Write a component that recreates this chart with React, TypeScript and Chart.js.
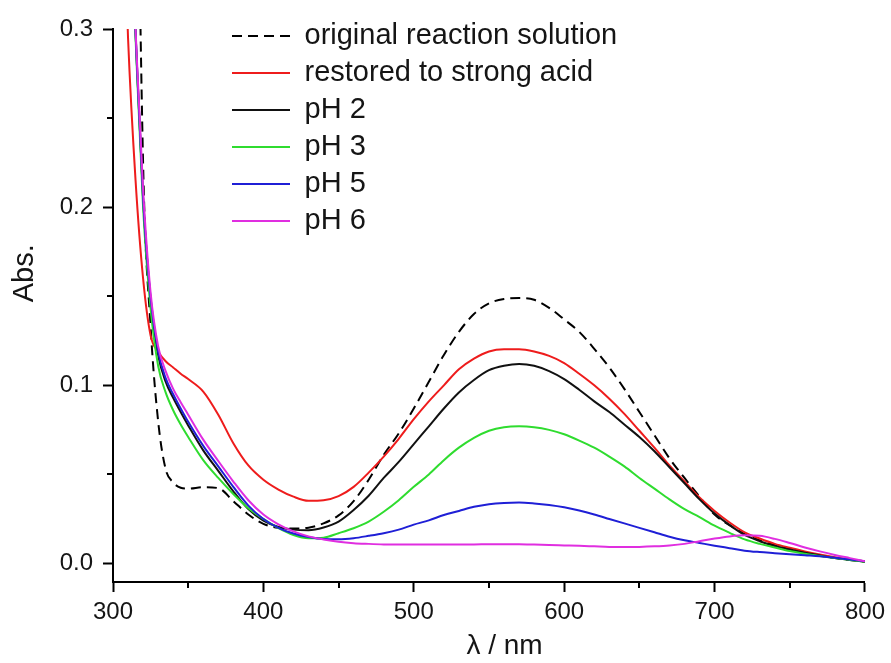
import React, { useEffect, useRef } from "react";
import { Chart, registerables } from "chart.js";

Chart.register(...registerables);

// ---- data ----
const wavelengths = [
  305, 310, 315, 320, 325, 330, 335, 340, 345, 350, 360, 370, 380, 390, 400, 410, 420, 430, 440, 450,
  460, 470, 480, 490, 500, 510, 520, 530, 540, 550, 560, 570, 580, 590, 600, 610, 620, 630, 640, 650,
  660, 670, 680, 690, 700, 710, 720, 730, 740, 750, 760, 770, 780, 790, 800,
];

const originalSolution = [
  1.2, 0.9, 0.5, 0.225, 0.133, 0.08, 0.053, 0.0455, 0.0425, 0.042, 0.0428, 0.0423, 0.035, 0.0275, 0.0222, 0.02, 0.0196, 0.0201, 0.0225, 0.027,
  0.035, 0.047, 0.061, 0.073, 0.087, 0.102, 0.117, 0.13, 0.14, 0.146, 0.1485, 0.149, 0.148, 0.1435, 0.137, 0.13, 0.1205, 0.11, 0.098, 0.085,
  0.072, 0.059, 0.048, 0.0375, 0.0275, 0.0215, 0.0165, 0.013, 0.0105, 0.008, 0.006, 0.0045, 0.003, 0.002, 0.001,
];

const strongAcid = [
  0.42, 0.295, 0.215, 0.16, 0.128, 0.119, 0.1135, 0.11, 0.1065, 0.1035, 0.0965, 0.0835, 0.0675, 0.055, 0.047, 0.0415, 0.0375, 0.0352, 0.0355, 0.0378,
  0.043, 0.051, 0.06, 0.07, 0.081, 0.091, 0.1, 0.109, 0.115, 0.119, 0.1202, 0.1202, 0.119, 0.1165, 0.1125, 0.1065, 0.1, 0.0925, 0.084, 0.0745,
  0.065, 0.055, 0.046, 0.037, 0.0295, 0.023, 0.0175, 0.014, 0.011, 0.0088, 0.0068, 0.005, 0.0035, 0.0022, 0.0012,
];

const pH2 = [
  0.6, 0.4, 0.298, 0.205, 0.148, 0.117, 0.102, 0.093, 0.085, 0.0775, 0.0635, 0.052, 0.0405, 0.0305, 0.024, 0.0205, 0.019, 0.0187, 0.0202, 0.0235,
  0.03, 0.038, 0.048, 0.057, 0.067, 0.077, 0.087, 0.096, 0.103, 0.1085, 0.111, 0.112, 0.111, 0.108, 0.1035, 0.0975, 0.091, 0.085, 0.078, 0.071,
  0.063, 0.054, 0.045, 0.036, 0.028, 0.0215, 0.016, 0.0125, 0.0098, 0.0078, 0.006, 0.0045, 0.003, 0.002, 0.001,
];

const pH3 = [
  0.6, 0.4, 0.295, 0.2, 0.143, 0.111, 0.096, 0.086, 0.078, 0.071, 0.058, 0.048, 0.039, 0.031, 0.025, 0.0198, 0.016, 0.0142, 0.0145, 0.017,
  0.0198, 0.0235, 0.029, 0.0355, 0.043, 0.05, 0.058, 0.065, 0.0705, 0.0745, 0.0765, 0.077, 0.0765, 0.075, 0.0725, 0.069, 0.065, 0.06, 0.0545, 0.048,
  0.042, 0.036, 0.0305, 0.026, 0.0212, 0.0172, 0.0135, 0.011, 0.009, 0.007, 0.0055, 0.0042, 0.003, 0.002, 0.001,
];

const pH5 = [
  0.6, 0.4, 0.298, 0.205, 0.149, 0.119, 0.104, 0.095, 0.087, 0.0795, 0.066, 0.0545, 0.043, 0.0325, 0.025, 0.02, 0.0168, 0.0148, 0.0137, 0.0136,
  0.0142, 0.0155, 0.017, 0.019, 0.0218, 0.0242, 0.0272, 0.0295, 0.0318, 0.0333, 0.034, 0.0342, 0.0337, 0.0328, 0.0315, 0.0297, 0.0275, 0.025, 0.0225, 0.02,
  0.0175, 0.015, 0.013, 0.0115, 0.01, 0.0086, 0.0072, 0.0064, 0.0058, 0.0052, 0.0046, 0.004, 0.0032, 0.0022, 0.0012,
];

const pH6 = [
  0.6, 0.4, 0.3, 0.21, 0.152, 0.122, 0.108, 0.098, 0.0905, 0.0835, 0.0695, 0.0575, 0.046, 0.0355, 0.0275, 0.022, 0.018, 0.0152, 0.0135, 0.0122,
  0.0114, 0.011, 0.0107, 0.0106, 0.0106, 0.0106, 0.0106, 0.0107, 0.0107, 0.0108, 0.0108, 0.0108, 0.0106, 0.0103, 0.0101, 0.0099, 0.0096, 0.0093, 0.0092, 0.0093,
  0.0096, 0.0101, 0.011, 0.0125, 0.014, 0.0152, 0.0158, 0.0155, 0.0138, 0.0115, 0.009, 0.0068, 0.0048, 0.003, 0.0012,
];

const seriesLabels = [
  "original reaction solution",
  "restored to strong acid",
  "pH 2",
  "pH 3",
  "pH 5",
  "pH 6",
];

const xMajorTicks = [300, 400, 500, 600, 700, 800];
const xMinorTicks = [350, 450, 550, 650, 750];
const yMajorTicks = [0, 0.1, 0.2, 0.3];
const yMinorTicks = [0.05, 0.15, 0.25];

const FONT = "'Liberation Sans', Arial, Helvetica, sans-serif";
const TEXT = "#151515";

const minorTicksPlugin = {
  id: "minorTicks",
  afterDraw(chart: any) {
    const { ctx, chartArea } = chart;
    const xs = chart.scales.x;
    const ys = chart.scales.y;
    ctx.save();
    ctx.strokeStyle = "#000";
    ctx.lineWidth = 2;
    ctx.beginPath();
    xMinorTicks.forEach((v) => {
      const px = Math.round(xs.getPixelForValue(v));
      ctx.moveTo(px, chartArea.bottom);
      ctx.lineTo(px, chartArea.bottom + 6);
    });
    yMinorTicks.forEach((v) => {
      const py = Math.round(ys.getPixelForValue(v));
      ctx.moveTo(chartArea.left, py);
      ctx.lineTo(chartArea.left - 6, py);
    });
    ctx.stroke();
    ctx.restore();
  },
};

const legendPlacePlugin = {
  id: "legendPlace",
  afterLayout(chart: any) {
    const lg = chart.legend;
    if (!lg) return;
    const w = lg.width;
    const h = lg.height;
    lg.left = 224;
    lg.top = 13.5;
    lg.right = lg.left + w;
    lg.bottom = lg.top + h;
  },
};

export default function App() {
  const canvasRef = useRef<HTMLCanvasElement | null>(null);

  useEffect(() => {
    if (!canvasRef.current) return;
    const seriesValues = [originalSolution, strongAcid, pH2, pH3, pH5, pH6];
    const colors = ["#000000", "#ee1c1c", "#111111", "#2fdc2f", "#1f1fd6", "#e02ee0"];
    const dashes = [[10, 6], [], [], [], [], []];

    const datasets = seriesLabels.map((label, i) => ({
      label,
      data: wavelengths.map((w, j) => ({ x: w, y: seriesValues[i][j] })),
      borderColor: colors[i],
      backgroundColor: colors[i],
      borderWidth: 2,
      borderDash: dashes[i],
      pointRadius: 0,
      pointStyle: "line" as const,
      fill: false,
      cubicInterpolationMode: "monotone" as const,
      order: seriesLabels.length - i,
    }));

    const defaultGenerate = (Chart.defaults as any).plugins.legend.labels.generateLabels;

    const chart = new Chart(canvasRef.current, {
      type: "line",
      data: { datasets },
      options: {
        responsive: false,
        animation: false,
        layout: { padding: { left: 0, top: 29, right: 22, bottom: 0 } },
        plugins: {
          tooltip: { enabled: false },
          legend: {
            display: true,
            position: "chartArea" as any,
            align: "start",
            labels: {
              usePointStyle: true,
              pointStyle: "line",
              pointStyleWidth: 58,
              boxWidth: 58,
              boxHeight: 10,
              padding: 8,
              color: TEXT,
              font: { family: FONT, size: 29, lineHeight: 1 },
              generateLabels: (c: any) =>
                defaultGenerate(c)
                  .map((item: any) => ({
                    ...item,
                    lineDash: dashes[item.datasetIndex],
                    lineWidth: 2,
                    strokeStyle: colors[item.datasetIndex],
                    fillStyle: colors[item.datasetIndex],
                  }))
                  .sort((a: any, b: any) => a.datasetIndex - b.datasetIndex),
            },
          },
        },
        scales: {
          x: {
            type: "linear",
            min: 300,
            max: 800,
            afterBuildTicks: (s: any) => {
              s.ticks = xMajorTicks.map((v) => ({ value: v }));
            },
            afterFit: (s: any) => {
              s.height = 81;
            },
            ticks: {
              autoSkip: false,
              maxRotation: 0,
              padding: 6,
              color: TEXT,
              font: { family: FONT, size: 24 },
              callback: (v: any) => String(v),
            },
            grid: {
              display: true,
              drawOnChartArea: false,
              drawTicks: true,
              tickLength: 10,
              tickWidth: 2,
              tickColor: "#000",
            },
            border: { display: true, color: "#000", width: 2 },
            title: {
              display: true,
              text: "    λ / nm",
              color: TEXT,
              font: { family: FONT, size: 28 },
              padding: { top: 0, bottom: 0 },
            },
          },
          y: {
            type: "linear",
            min: -0.0104,
            max: 0.3,
            afterBuildTicks: (s: any) => {
              s.ticks = yMajorTicks.map((v) => ({ value: v }));
            },
            afterFit: (s: any) => {
              s.width = 113;
            },
            ticks: {
              padding: 10,
              color: TEXT,
              font: { family: FONT, size: 24 },
              callback: (v: any) => Number(v).toFixed(1),
            },
            grid: {
              display: true,
              drawOnChartArea: false,
              drawTicks: true,
              tickLength: 10,
              tickWidth: 2,
              tickColor: "#000",
            },
            border: { display: true, color: "#000", width: 2 },
            title: {
              display: true,
              text: "        Abs.",
              color: TEXT,
              font: { family: FONT, size: 29 },
              padding: { top: 8, bottom: 0 },
            },
          },
        },
      },
      plugins: [minorTicksPlugin, legendPlacePlugin],
    });

    return () => chart.destroy();
  }, []);

  return (
    <div style={{ position: "fixed", left: 0, top: 0, width: 891, height: 663, background: "#fff" }}>
      <canvas ref={canvasRef} width={891} height={663} style={{ display: "block" }} />
    </div>
  );
}
